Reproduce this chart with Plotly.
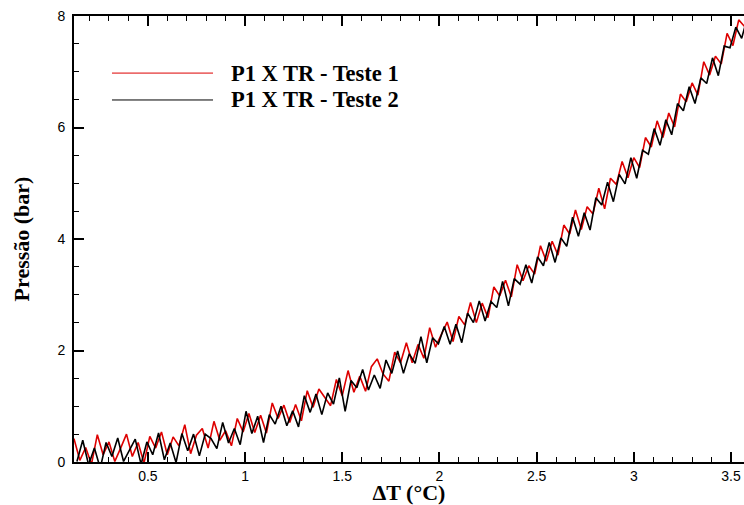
import plotly.graph_objects as go

# Test 1 (red)
x_teste1 = [0.12, 0.15, 0.18, 0.21, 0.24, 0.27, 0.30, 0.33, 0.36, 0.39,
            0.42, 0.45, 0.48, 0.51, 0.54, 0.57, 0.60, 0.63, 0.66, 0.69,
            0.72, 0.75, 0.78, 0.81, 0.84, 0.87, 0.90, 0.93, 0.96, 0.99,
            1.02, 1.05, 1.08, 1.11, 1.14, 1.17, 1.20, 1.23, 1.26, 1.29,
            1.32, 1.35, 1.38, 1.41, 1.44, 1.47, 1.50, 1.53, 1.56, 1.59,
            1.62, 1.65, 1.68, 1.71, 1.74, 1.77, 1.80, 1.83, 1.86, 1.89,
            1.92, 1.95, 1.98, 2.01, 2.04, 2.07, 2.10, 2.13, 2.16, 2.19,
            2.22, 2.25, 2.28, 2.31, 2.34, 2.37, 2.40, 2.43, 2.46, 2.49,
            2.52, 2.55, 2.58, 2.61, 2.64, 2.67, 2.70, 2.73, 2.76, 2.79,
            2.82, 2.85, 2.88, 2.91, 2.94, 2.97, 3.00, 3.03, 3.06, 3.09,
            3.12, 3.15, 3.18, 3.21, 3.24, 3.27, 3.30, 3.33, 3.36, 3.39,
            3.42, 3.45, 3.48, 3.51, 3.54, 3.57]
p_teste1 = [0.42, 0.03, 0.26, -0.04, 0.49, 0.13, 0.36, 0.01, 0.25, 0.50,
            0.10, 0.35, -0.02, 0.46, 0.25, 0.54, 0.13, 0.45, 0.29, 0.67,
            0.15, 0.48, 0.60, 0.25, 0.73, 0.39, 0.56, 0.29, 0.78, 0.54,
            0.87, 0.53, 0.84, 0.52, 1.06, 0.78, 1.02, 0.71, 1.03, 0.74,
            1.28, 0.98, 1.31, 1.17, 1.01, 1.48, 1.19, 1.64, 1.25, 1.54,
            1.27, 1.71, 1.85, 1.58, 1.45, 1.97, 1.78, 2.14, 1.78, 2.11,
            1.86, 2.41, 2.06, 2.29, 2.51, 2.16, 2.61, 2.46, 2.86, 2.50,
            2.85, 2.59, 3.14, 2.98, 3.26, 2.96, 3.54, 3.25, 3.52, 3.37,
            3.88, 3.60, 3.96, 3.71, 4.25, 4.09, 4.52, 4.17, 4.58, 4.45,
            4.91, 4.54, 5.09, 4.98, 5.39, 5.10, 5.46, 5.28, 5.82, 5.65,
            6.12, 5.82, 6.26, 6.01, 6.60, 6.46, 6.80, 6.58, 7.18, 6.94,
            7.28, 7.14, 7.69, 7.47, 7.93, 7.81]

# Test 2 (black)
x_teste2 = [0.135, 0.165, 0.195, 0.225, 0.255, 0.285, 0.315, 0.345, 0.375, 0.405,
            0.435, 0.465, 0.495, 0.525, 0.555, 0.585, 0.615, 0.645, 0.675, 0.705,
            0.735, 0.765, 0.795, 0.825, 0.855, 0.885, 0.915, 0.945, 0.975, 1.005,
            1.035, 1.065, 1.095, 1.125, 1.155, 1.185, 1.215, 1.245, 1.275, 1.305,
            1.335, 1.365, 1.395, 1.425, 1.455, 1.485, 1.515, 1.545, 1.575, 1.605,
            1.635, 1.665, 1.695, 1.725, 1.755, 1.785, 1.815, 1.845, 1.875, 1.905,
            1.935, 1.965, 1.995, 2.025, 2.055, 2.085, 2.115, 2.145, 2.175, 2.205,
            2.235, 2.265, 2.295, 2.325, 2.355, 2.385, 2.415, 2.445, 2.475, 2.505,
            2.535, 2.565, 2.595, 2.625, 2.655, 2.685, 2.715, 2.745, 2.775, 2.805,
            2.835, 2.865, 2.895, 2.925, 2.955, 2.985, 3.015, 3.045, 3.075, 3.105,
            3.135, 3.165, 3.195, 3.225, 3.255, 3.285, 3.315, 3.345, 3.375, 3.405,
            3.435, 3.465, 3.495, 3.525, 3.555, 3.585]
p_teste2 = [0.01, 0.39, -0.05, 0.25, -0.11, 0.35, 0.10, 0.43, 0.01, 0.22,
            0.41, -0.04, 0.36, 0.13, 0.52, 0.04, 0.34, -0.01, 0.51, 0.20,
            0.50, 0.11, 0.50, 0.42, 0.24, 0.71, 0.34, 0.60, 0.31, 0.91,
            0.51, 0.82, 0.35, 0.85, 0.68, 1.00, 0.65, 0.92, 0.63, 1.19,
            0.89, 1.22, 0.85, 1.24, 1.04, 1.51, 0.91, 1.46, 1.33, 1.66,
            1.29, 1.56, 1.32, 1.83, 1.59, 1.99, 1.59, 1.94, 1.77, 2.25,
            1.78, 2.23, 2.12, 2.43, 2.11, 2.47, 2.14, 2.67, 2.50, 2.89,
            2.53, 2.88, 2.77, 3.24, 2.80, 3.29, 3.19, 3.54, 3.21, 3.68,
            3.52, 3.94, 3.58, 4.02, 3.87, 4.39, 4.05, 4.47, 4.16, 4.74,
            4.61, 5.02, 4.67, 5.16, 4.99, 5.46, 5.09, 5.59, 5.52, 5.98,
            5.68, 6.14, 5.87, 6.43, 6.30, 6.73, 6.43, 6.89, 6.79, 7.25,
            6.93, 7.46, 7.43, 7.80, 7.60, 7.98]

series_names = ["P1 X TR - Teste 1", "P1 X TR - Teste 2"]
series_colors = ["#dd0000", "#000000"]
x_tick_vals = [0.5, 1, 1.5, 2, 2.5, 3, 3.5]
x_tick_text = ["0.5", "1", "1.5", "2", "2.5", "3", "3.5"]
y_tick_vals = [0, 2, 4, 6, 8]
y_tick_text = ["0", "2", "4", "6", "8"]

fig = go.Figure()
fig.add_trace(go.Scatter(x=x_teste1, y=p_teste1, mode="lines", name=series_names[0],
                         line=dict(color=series_colors[0], width=1.6), showlegend=False))
fig.add_trace(go.Scatter(x=x_teste2, y=p_teste2, mode="lines", name=series_names[1],
                         line=dict(color=series_colors[1], width=1.6), showlegend=False))

serif_bold = dict(family="Liberation Serif, Times New Roman, serif", size=22, color="black", weight="bold")
tick_font = dict(family="Liberation Sans, Arial, sans-serif", size=14, color="black")

fig.update_layout(
    width=744, height=505,
    margin=dict(l=74, r=0, t=16, b=43),
    paper_bgcolor="white", plot_bgcolor="white",
    xaxis=dict(
        range=[0.12, 3.567], showgrid=False, zeroline=False,
        showline=True, linecolor="black", linewidth=2, mirror="allticks",
        ticks="inside", ticklen=10, tickwidth=1.5, tickcolor="black",
        tickvals=x_tick_vals, ticktext=x_tick_text, tickfont=tick_font,
        minor=dict(ticks="inside", ticklen=5, tickwidth=1, tickcolor="black", dtick=0.1, tick0=0),
        title=dict(text="ΔT (°C)", font=serif_bold, standoff=4),
        automargin=False,
    ),
    yaxis=dict(
        range=[0, 8], showgrid=False, zeroline=False,
        showline=True, linecolor="black", linewidth=2, mirror=False,
        ticks="inside", ticklen=10, tickwidth=1.5, tickcolor="black",
        tickvals=y_tick_vals, ticktext=y_tick_text, tickfont=tick_font,
        ticklabelstandoff=4,
        minor=dict(ticks="inside", ticklen=5, tickwidth=1, tickcolor="black", dtick=0.5, tick0=0),
        title=dict(text="Pressão (bar)", font=serif_bold, standoff=22),
        automargin=False,
    ),
    showlegend=False,
)

# Legend drawn as long line samples with labels
legend_y = [0.872, 0.8117]
for name, color, ly in zip(series_names, series_colors, legend_y):
    fig.add_shape(type="line", xref="paper", yref="paper", x0=0.0567, x1=0.2075, y0=ly, y1=ly,
                  line=dict(color=color, width=1))
    fig.add_annotation(xref="paper", yref="paper", x=0.232, y=ly, text=name, showarrow=False,
                       xanchor="left", yanchor="middle",
                       font=dict(family="Liberation Serif, Times New Roman, serif", size=22.5,
                                 color="black", weight="bold"))

fig.write_html("out.html", config={"displayModeBar": False},
               post_script="document.body.style.margin='0';document.body.style.overflow='hidden';")
